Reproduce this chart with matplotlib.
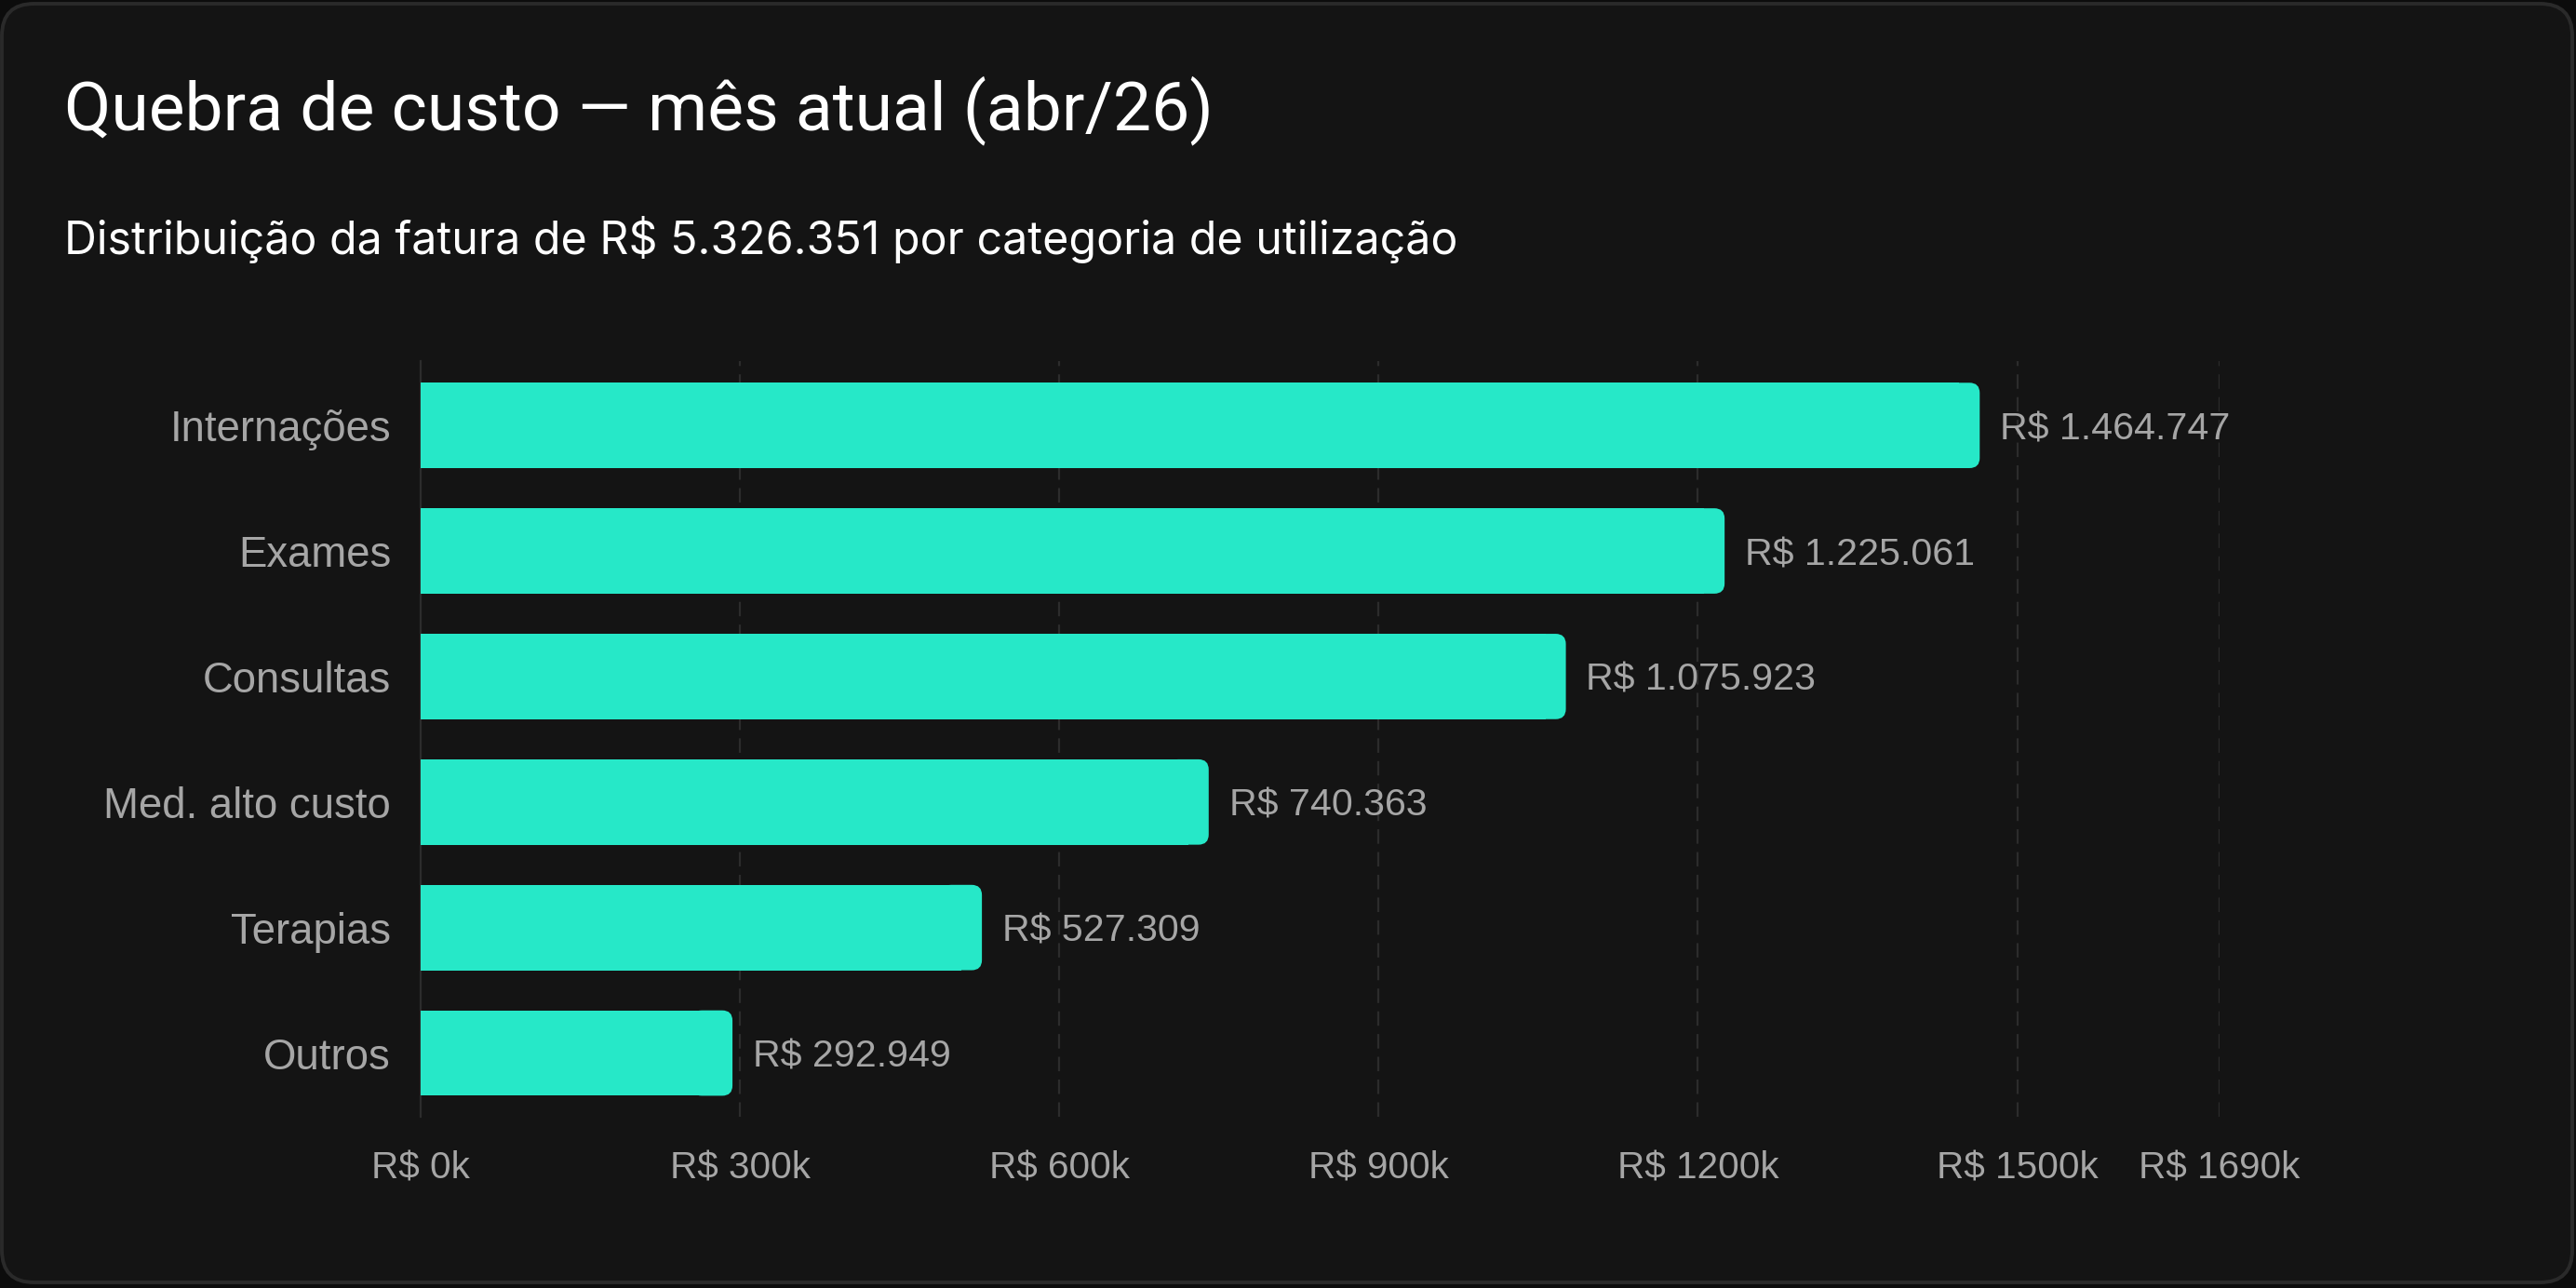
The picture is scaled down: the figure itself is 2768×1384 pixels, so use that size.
import matplotlib.pyplot as plt
from matplotlib.patches import FancyBboxPatch, Rectangle

categories = ["Internações", "Exames", "Consultas", "Med. alto custo", "Terapias", "Outros"]
values = [1464747, 1225061, 1075923, 740363, 527309, 292949]
x_ticks = [0, 300000, 600000, 900000, 1200000, 1500000, 1690000]
x_max = 1690000

BG = "#141414"
BAR = "#26E8C8"
GRID = "#2c2c2c"
TXT = "#a6a6a6"


def fmt_brl(v):
    return "R$ " + f"{v:,.0f}".replace(",", ".")


W, H, DPI = 2768, 1384, 200
fig = plt.figure(figsize=(W / DPI, H / DPI), dpi=DPI)
fig.patch.set_facecolor("#0c0c0c")

# card background with rounded border
card = FancyBboxPatch((2 / W, 6 / H), 1 - 6 / W, 1 - 10 / H,
                      boxstyle="round,pad=0,rounding_size=0.0125",
                      mutation_aspect=W / H,
                      transform=fig.transFigure, facecolor=BG,
                      edgecolor="#2a2a2a", linewidth=1.4, zorder=-10)
fig.patches.append(card)

fig.text(0.0249, 0.899, "Quebra de custo — mês atual (abr/26)", color="white",
         fontsize=26.4, family="Roboto", va="baseline", ha="left")
fig.text(0.0249, 0.803, "Distribuição da fatura de R$ 5.326.351 por categoria de utilização",
         color="white", fontsize=17.4, family="Inter", va="baseline", ha="left")

ax = fig.add_axes([0.1633, 0.1327, 0.8616 - 0.1633, 0.7194 - 0.1327])
ax.set_facecolor(BG)

ypos = list(range(len(categories)))
bars = ax.barh(ypos, values, height=0.68, color=BAR, zorder=3)

# rounded right corners: replace each bar by a square left part + rounded patch
r_px = 11
ax_w_px = ax.get_position().width * W
ax_h_px = ax.get_position().height * H
rx = r_px * x_max / ax_w_px
ry = r_px * 6.0 / ax_h_px
for b in bars:
    x0, y0, w, h = b.get_x(), b.get_y(), b.get_width(), b.get_height()
    b.set_visible(False)
    ax.add_patch(Rectangle((x0, y0), w - 2 * rx, h, facecolor=BAR,
                           edgecolor="none", zorder=3))
    ax.add_patch(FancyBboxPatch((x0 + w - 4 * rx, y0), 4 * rx, h,
                                boxstyle=f"round,pad=0,rounding_size={rx}",
                                mutation_aspect=ry / rx,
                                facecolor=BAR, edgecolor="none", zorder=3))

for y, v in zip(ypos, values):
    ax.text(v + 19000, y, fmt_brl(v), color=TXT, fontsize=14.8,
            family="Liberation Sans", va="center_baseline", ha="left", zorder=4)

ax.set_xlim(0, x_max)
ax.set_ylim(5.51, -0.51)
ax.set_yticks(ypos)
ax.set_yticklabels(categories, family="Liberation Sans", fontsize=16.4, color=TXT)
ax.set_xticks(x_ticks)
ax.set_xticklabels([f"R$ {t // 1000}k" for t in x_ticks],
                   family="Liberation Sans", fontsize=14.6, color=TXT)
ax.tick_params(axis="y", length=0, pad=11.5)
ax.tick_params(axis="x", length=0, pad=13)

for t in x_ticks[1:]:
    ax.axvline(t, color=GRID, linewidth=0.8, linestyle=(0, (7, 4)), zorder=1)

for s in ["top", "right", "bottom"]:
    ax.spines[s].set_visible(False)
ax.spines["left"].set_color(GRID)
ax.spines["left"].set_linewidth(0.8)

fig.savefig("out.png", dpi=DPI, facecolor=fig.get_facecolor())
